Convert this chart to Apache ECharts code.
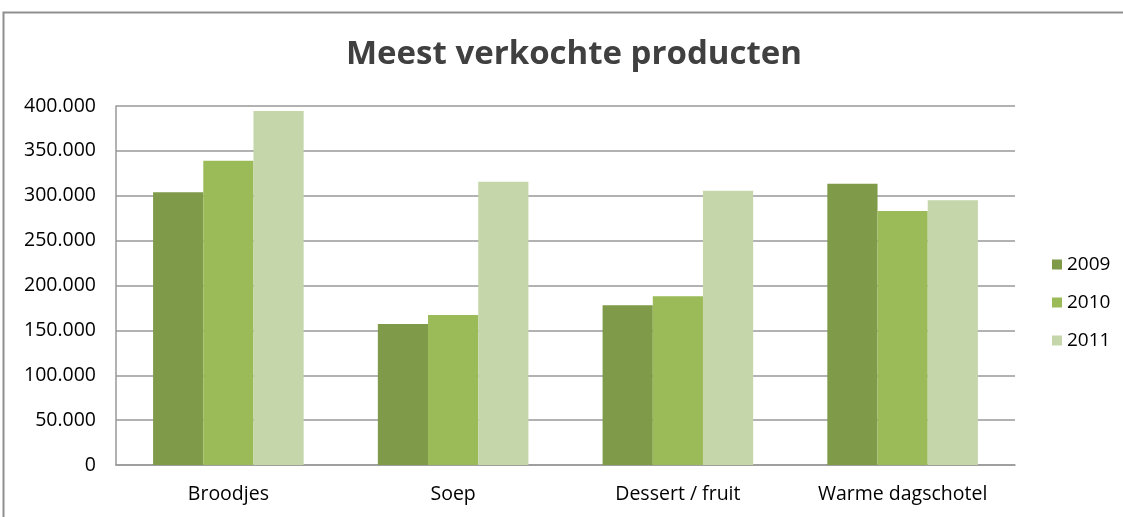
<!DOCTYPE html>
<html>
<head>
<meta charset="utf-8">
<script src="https://cdn.jsdelivr.net/npm/echarts@6/dist/echarts.min.js"></script>
<style>
  html, body { margin: 0; padding: 0; background: #fff; }
  #chart { width: 1123px; height: 517px; }
</style>
</head>
<body>
<div id="chart"></div>
<script>
  var categories = ['Broodjes', 'Soep', 'Dessert / fruit', 'Warme dagschotel'];
  var years = ['2009', '2010', '2011'];
  var sales2009 = [304000, 157000, 178000, 313500];
  var sales2010 = [339000, 167000, 188000, 283000];
  var sales2011 = [394500, 315500, 305500, 295000];
  var colors = ['#7F9A48', '#9BBB59', '#C5D6AA'];

  var fontName = '"Open Sans", sans-serif';

  function fmt(v) {
    // punt als duizendtal-scheiding
    return String(v).replace(/\B(?=(\d{3})+(?!\d))/g, '.');
  }

  var seriesData = [sales2009, sales2010, sales2011];
  var series = years.map(function (y, i) {
    return {
      name: y,
      type: 'bar',
      barGap: 0,
      barCategoryGap: '33%',
      itemStyle: { color: colors[i] },
      data: seriesData[i]
    };
  });

  var option = {
    animation: false,
    title: {
      text: 'Meest verkochte producten',
      left: 341,
      top: 33,
      textStyle: {
        fontFamily: fontName,
        fontSize: 33,
        fontWeight: 'bold',
        color: '#404040'
      }
    },
    legend: {
      orient: 'vertical',
      left: 1047,
      top: 250,
      itemWidth: 10,
      itemHeight: 10,
      itemGap: 19,
      icon: 'rect',
      data: years,
      textStyle: { fontFamily: fontName, fontSize: 19, color: '#000' }
    },
    grid: {
      left: 116,
      right: 108,
      top: 106,
      bottom: 52,
      containLabel: false
    },
    xAxis: {
      type: 'category',
      data: categories,
      axisTick: { show: false },
      axisLine: { lineStyle: { color: '#999', width: 1.5 } },
      axisLabel: {
        margin: 19,
        fontFamily: fontName,
        fontSize: 19.5,
        color: '#000'
      }
    },
    yAxis: {
      type: 'value',
      min: 0,
      max: 400000,
      interval: 50000,
      axisLine: { show: true, lineStyle: { color: '#999', width: 1.5 } },
      axisTick: { show: false },
      splitLine: { lineStyle: { color: '#999', width: 1.5 } },
      axisLabel: {
        margin: 20,
        fontFamily: fontName,
        fontSize: 19.5,
        color: '#000',
        formatter: fmt
      }
    },
    graphic: [{
      type: 'rect',
      silent: true,
      shape: { x: 3.5, y: 12.5, width: 1200, height: 600 },
      style: { fill: 'none', stroke: '#8f8f8f', lineWidth: 2 }
    }],
    series: series
  };

  var myChart = echarts.init(document.getElementById('chart'));
  myChart.setOption(option, true);
</script>
</body>
</html>
